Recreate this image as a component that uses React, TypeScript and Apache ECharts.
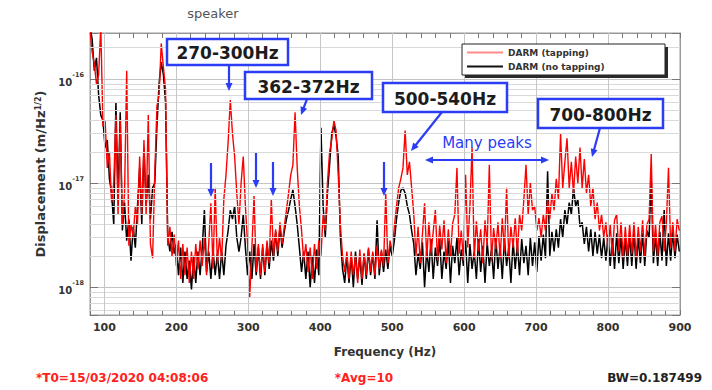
import React, { useEffect, useRef } from 'react';
import * as echarts from 'echarts';

// Frequency bins (Hz)
const freqHz = [
  80, 83, 86, 89, 92, 95, 98, 101, 104, 107,
  110, 113, 116, 119, 122, 125, 128, 131, 134, 137,
  140, 143, 146, 149, 152, 155, 158, 161, 164, 167,
  170, 173, 176, 179, 182, 185, 188, 191, 194, 197,
  200, 203, 206, 209, 212, 215, 218, 221, 224, 227,
  230, 233, 236, 239, 242, 245, 248, 251, 254, 257,
  260, 263, 266, 269, 272, 275, 278, 281, 284, 287,
  290, 293, 296, 299, 302, 305, 308, 311, 314, 317,
  320, 323, 326, 329, 332, 335, 338, 341, 344, 347,
  350, 353, 356, 359, 362, 365, 368, 371, 374, 377,
  380, 383, 386, 389, 392, 395, 398, 401, 404, 407,
  410, 413, 416, 419, 422, 425, 428, 431, 434, 437,
  440, 443, 446, 449, 452, 455, 458, 461, 464, 467,
  470, 473, 476, 479, 482, 485, 488, 491, 494, 497,
  500, 503, 506, 509, 512, 515, 518, 521, 524, 527,
  530, 533, 536, 539, 542, 545, 548, 551, 554, 557,
  560, 563, 566, 569, 572, 575, 578, 581, 584, 587,
  590, 593, 596, 599, 602, 605, 608, 611, 614, 617,
  620, 623, 626, 629, 632, 635, 638, 641, 644, 647,
  650, 653, 656, 659, 662, 665, 668, 671, 674, 677,
  680, 683, 686, 689, 692, 695, 698, 701, 704, 707,
  710, 713, 716, 719, 722, 725, 728, 731, 734, 737,
  740, 743, 746, 749, 752, 755, 758, 761, 764, 767,
  770, 773, 776, 779, 782, 785, 788, 791, 794, 797,
  800, 803, 806, 809, 812, 815, 818, 821, 824, 827,
  830, 833, 836, 839, 842, 845, 848, 851, 854, 857,
  860, 863, 866, 869, 872, 875, 878, 881, 884, 887,
  890, 893, 896, 899,
];

// DARM (tapping), displacement in units of 1e-18 m/Hz^1/2
const tappingDisp = [
  300, 180, 140, 90, 110, 320, 35, 40, 14, 20,
  6.5, 10, 45, 5, 40, 4, 8, 120, 2.5, 4,
  3, 6, 4, 18, 5, 26, 5, 45, 2.6, 1.9,
  12, 55, 70, 220, 130, 80, 2.5, 3.8, 2.0, 3.2,
  1.6, 2.8, 1.2, 2.6, 1.3, 2.4, 1.1, 2.2, 1.2, 2.6,
  1.5, 2.8, 1.6, 3.0, 1.3, 2.6, 6.4, 1.5, 9, 1.7,
  3.0, 1.8, 7, 12, 25, 63, 30, 18, 8, 4,
  10, 18, 6, 2.6, 0.8, 2.4, 7.5, 1.4, 2.6, 1.3,
  2.6, 1.4, 2.8, 1.7, 7, 2.0, 3.6, 2.2, 4.2, 2.6,
  3.8, 5.5, 8, 12, 15, 48, 14, 6, 3.5, 1.8,
  2.6, 1.4, 2.4, 1.2, 2.6, 1.5, 2.8, 2.0, 5, 3.5,
  10, 20, 26, 40, 32, 12, 4, 2, 1.4, 2.2,
  1.2, 2.2, 1.3, 2.0, 1.1, 2.3, 1.2, 2.1, 1.3, 2.4,
  1.4, 2.2, 1.3, 2.5, 1.5, 2.3, 1.6, 8, 1.7, 2.8,
  2.2, 3.8, 6, 9, 11, 14, 32, 12, 16, 9,
  5, 2.0, 3.8, 1.7, 3.2, 6.4, 1.9, 4.2, 2.1, 3.4,
  5.5, 1.8, 3.9, 2.3, 4.4, 1.7, 3.6, 2.0, 4.1, 5,
  14, 2.1, 3.5, 1.8, 12, 2.4, 6, 22, 1.9, 4.3,
  2.2, 3.6, 1.7, 4.4, 2.5, 15, 1.8, 3.7, 2.3, 4.2,
  1.9, 4.6, 2.2, 9, 1.9, 3.8, 2.4, 4.6, 2.1, 5.0,
  3.5, 7, 15, 5, 10, 5.5, 6, 3.5, 4.6, 3.0,
  5, 3.5, 7, 4.5, 8, 5.5, 11, 7, 30, 9,
  16, 27, 9, 16, 8, 18, 10, 22, 9, 17,
  8, 12, 6, 9, 4.5, 6.5, 3.5, 5, 3.0, 4.2,
  2.2, 4.0, 2.0, 4.4, 5, 2.2, 4.2, 1.9, 3.8, 2.0,
  4.0, 2.1, 4.2, 1.9, 3.8, 2.2, 4.4, 2.0, 4.0, 4.5,
  19, 2.2, 4.0, 2.0, 4.2, 4.8, 2.2, 4.0, 14, 2.4,
  4.2, 2.2, 4.5, 3.5,
];

// DARM (no tapping), displacement in units of 1e-18 m/Hz^1/2
const noTappingDisp = [
  320, 240, 120, 160, 70, 45, 40, 22, 26, 11,
  8, 4, 60, 7, 48, 3.5, 6.5, 2.8, 4.5, 1.8,
  3.8, 2.4, 6, 14, 4, 22, 6, 12, 4.5, 9,
  10, 35, 90, 145, 110, 60, 3.2, 2.2, 3.4, 2.1,
  2.6, 1.3, 2.4, 1.1, 2.2, 1.2, 1.8, 0.95, 2.0, 1.1,
  2.2, 1.3, 2.4, 5.5, 1.4, 2.2, 1.2, 2.3, 1.3, 2.1,
  1.2, 2.2, 1.3, 2.5, 3.5, 5.5, 4.5, 6, 3.0, 2.2,
  3, 5, 2.4, 1.3, 2.2, 1.2, 2.6, 1.3, 2.4, 1.2,
  2.4, 1.3, 2.6, 1.5, 2.8, 1.8, 3.4, 2.0, 3.8, 2.4,
  3.4, 4.5, 5.5, 7, 8.6, 6, 4, 2.4, 1.4, 2.2,
  1.2, 2.2, 1.0, 2.0, 1.1, 2.3, 1.3, 34, 6, 3,
  8, 15, 30, 36, 28, 18, 3, 1.5, 1.1, 2.0,
  1.1, 2.0, 1.0, 2.2, 1.2, 2.0, 1.05, 2.1, 1.2, 2.3,
  1.3, 2.1, 1.2, 4.4, 1.3, 2.2, 1.4, 2.3, 1.5, 2.5,
  2.0, 2.8, 4.5, 6.5, 8.5, 9, 8, 6, 5, 3.5,
  2.6, 1.3, 2.1, 1.5, 2.7, 1.0, 2.3, 1.4, 2.9, 1.2,
  2.4, 1.6, 2.9, 1.2, 2.2, 1.5, 2.8, 1.1, 2.5, 1.7,
  3.0, 1.3, 2.3, 1.6, 2.8, 1.1, 2.6, 1.5, 2.2, 1.2,
  2.9, 1.4, 2.5, 1.1, 2.7, 1.6, 2.3, 1.2, 3.0, 1.5,
  2.5, 1.2, 2.9, 1.6, 2.4, 1.1, 2.8, 1.5, 2.6, 1.3,
  2.9, 1.7, 2.5, 1.3, 3.0, 1.6, 2.7, 1.4, 3.1, 1.8,
  3.2, 1.9, 13, 2.0, 3.4, 2.2, 3.6, 2.4, 4.5, 3.0,
  5.5, 4, 6.5, 5, 9, 6, 7, 3.8, 4.2, 2.6,
  3.8, 2.2, 3.6, 2.0, 3.4, 2.1, 3.2, 1.9, 3.0, 1.8,
  3.2, 1.6, 3.0, 1.5, 3.3, 1.7, 3.1, 1.5, 3.0, 1.6,
  3.2, 1.6, 3.4, 1.5, 3.0, 1.7, 3.3, 1.6, 3.5, 3.0,
  11, 1.7, 3.2, 1.6, 3.4, 1.8, 5.5, 1.6, 3.3, 1.8,
  3.4, 1.9, 3.2, 2.2,
];

const seriesNames = ['DARM (tapping)', 'DARM (no tapping)'];
const xMajorGrid = [100, 200, 300, 400, 500, 600, 700, 800];
const yMinorGrid = [0.6, 0.7, 0.8, 0.9, 2, 3, 4, 5, 6, 7, 8, 9, 20, 30, 40, 50, 60, 70, 80, 90, 200];
const Y_UNIT_EXP = -18;

const BLUE = '#2b3cf5';
const FONT = '"DejaVu Sans", "Liberation Sans", sans-serif';

function arrowHead(tx: number, ty: number, fx: number, fy: number) {
  const dx = tx - fx;
  const dy = ty - fy;
  const len = Math.sqrt(dx * dx + dy * dy) || 1;
  const ux = dx / len;
  const uy = dy / len;
  const bx = tx - ux * 8;
  const by = ty - uy * 8;
  const nx = -uy * 3.5;
  const ny = ux * 3.5;
  return {
    type: 'polygon',
    z: 10,
    shape: { points: [[tx, ty], [bx + nx, by + ny], [bx - nx, by - ny]] },
    style: { fill: BLUE },
  };
}

function arrow(x1: number, y1: number, x2: number, y2: number, both = false) {
  const dx = x2 - x1;
  const dy = y2 - y1;
  const len = Math.sqrt(dx * dx + dy * dy) || 1;
  const ux = dx / len;
  const uy = dy / len;
  const sx = both ? x1 + ux * 6 : x1;
  const sy = both ? y1 + uy * 6 : y1;
  const els: any[] = [
    {
      type: 'line',
      z: 10,
      shape: { x1: sx, y1: sy, x2: x2 - ux * 6, y2: y2 - uy * 6 },
      style: { stroke: BLUE, lineWidth: 2.2 },
    },
    arrowHead(x2, y2, x1, y1),
  ];
  if (both) els.push(arrowHead(x1, y1, x2, y2));
  return els;
}

function labelBox(x: number, y: number, w: number, h: number, text: string) {
  return [
    {
      type: 'rect',
      z: 10,
      shape: { x, y, width: w, height: h },
      style: { fill: '#ffffff', stroke: BLUE, lineWidth: 2.5 },
    },
    {
      type: 'text',
      z: 11,
      x: x + w / 2,
      y: y + h / 2 + 1,
      style: {
        text,
        align: 'center',
        verticalAlign: 'middle',
        fontFamily: FONT,
        fontWeight: 'bold',
        fontSize: 17,
        fill: '#1c1c1c',
      },
    },
  ];
}

function plainText(x: number, y: number, text: string, color: string, size: number, weight: string, align = 'left') {
  return {
    type: 'text',
    z: 11,
    x,
    y,
    style: {
      text,
      align,
      verticalAlign: 'middle',
      fontFamily: FONT,
      fontWeight: weight,
      fontSize: size,
      fill: color,
    },
  };
}

export default function App() {
  const ref = useRef<HTMLDivElement>(null);

  useEffect(() => {
    if (!ref.current) return;
    const chart = echarts.init(ref.current, undefined, { renderer: 'svg' });

    const graphics: any[] = [
      plainText(213, 13, 'speaker', '#555', 13, 'normal', 'center'),
      // legend frame with drop shadow
      { type: 'rect', z: 10, shape: { x: 465, y: 47, width: 203, height: 31 }, style: { fill: '#2a2a2a' } },
      { type: 'rect', z: 10, shape: { x: 462, y: 44, width: 203, height: 31 }, style: { fill: '#ffffff', stroke: '#222', lineWidth: 1 } },
      ...labelBox(167, 39, 121, 26, '270-300Hz'),
      ...labelBox(245, 72, 127, 27, '362-372Hz'),
      ...labelBox(383, 83, 124, 29, '500-540Hz'),
      ...labelBox(538, 99, 125, 29, '700-800Hz'),
      ...arrow(229, 65, 229, 91),
      ...arrow(307, 99, 301, 115),
      ...arrow(442, 112, 411, 151),
      ...arrow(600, 128, 592, 157),
      ...arrow(211, 163, 211, 197),
      ...arrow(256, 153, 256, 188),
      ...arrow(273, 162, 273, 196),
      ...arrow(384, 162, 384, 196),
      ...arrow(425, 160, 549, 160, true),
      plainText(487, 143, 'Many peaks', BLUE, 15, 'normal', 'center'),
      plainText(36, 378, '*T0=15/03/2020 04:08:06', '#ff2020', 12, 'bold'),
      plainText(364, 378, '*Avg=10', '#ff2020', 12, 'bold', 'center'),
      plainText(702, 378, 'BW=0.187499', '#222', 12, 'bold', 'right'),
    ];

    const gridLines = [
      ...yMinorGrid.map((v) => ({ yAxis: v, lineStyle: { color: '#d9d9d9', width: 1, type: 'solid' } })),
      ...xMajorGrid.map((f) => ({ xAxis: f, lineStyle: { color: '#c6c6c6', width: 1, type: 'solid' } })),
    ];

    const axisCommon = {
      axisLine: { show: true, onZero: false, lineStyle: { color: '#9a9a9a', width: 1 } },
    };

    const option: any = {
      animation: false,
      backgroundColor: '#ffffff',
      grid: { left: 90, top: 33, right: 32, bottom: 75, show: true, borderColor: '#9a9a9a', borderWidth: 1 },
      legend: {
        data: [
          { name: seriesNames[0], itemStyle: { color: '#ff8c8c' } },
          { name: seriesNames[1], itemStyle: { color: '#111' } },
        ],
        orient: 'vertical',
        left: 465,
        top: 45,
        padding: 2,
        itemGap: 3,
        itemWidth: 36,
        itemHeight: 2,
        icon: 'rect',
        z: 20,
        textStyle: { fontSize: 9, fontWeight: 'bold', fontFamily: FONT, color: '#333', lineHeight: 11 },
      },
      xAxis: [
        {
          type: 'value',
          min: 80,
          max: 900,
          interval: 20,
          position: 'bottom',
          ...axisCommon,
          axisTick: { show: true, inside: true, length: 5, lineStyle: { color: '#777' } },
          axisLabel: {
            formatter: (v: number) => (v % 100 === 0 ? String(v) : ''),
            color: '#333',
            fontSize: 11,
            fontWeight: 'bold',
            fontFamily: FONT,
            margin: 7,
          },
          splitLine: { show: false },
          name: 'Frequency (Hz)',
          nameLocation: 'middle',
          nameGap: 31,
          nameTextStyle: { fontSize: 12, fontWeight: 'bold', fontFamily: FONT, color: '#333' },
        },
        {
          type: 'value',
          min: 80,
          max: 900,
          interval: 20,
          position: 'top',
          ...axisCommon,
          axisTick: { show: true, inside: true, length: 5, lineStyle: { color: '#777' } },
          axisLabel: { show: false },
          splitLine: { show: false },
        },
      ],
      yAxis: [
        {
          type: 'log',
          logBase: 10,
          min: 0.54,
          max: 277,
          position: 'left',
          ...axisCommon,
          axisTick: { show: true, inside: true, length: 8, lineStyle: { color: '#777' } },
          axisLabel: {
            margin: 6,
            formatter: (v: number) => {
              const e = Math.log10(v);
              const r = Math.round(e);
              if (Math.abs(e - r) > 1e-6) return '';
              return `{b|10}{s|${r + Y_UNIT_EXP}}`;
            },
            rich: {
              b: { fontSize: 10, fontWeight: 'bold', fontFamily: FONT, color: '#333', verticalAlign: 'bottom', lineHeight: 16 },
              s: { fontSize: 6.5, fontWeight: 'bold', fontFamily: FONT, color: '#333', verticalAlign: 'top', lineHeight: 8 },
            },
          },
          splitLine: { show: true, lineStyle: { color: '#c4c4c4', width: 1 } },
          name: 'Displacement (m/Hz{s|1/2})',
          nameLocation: 'middle',
          nameGap: 36,
          nameRotate: 90,
          nameTextStyle: {
            fontSize: 13,
            fontWeight: 'bold',
            fontFamily: FONT,
            color: '#333',
            rich: {
              s: { fontSize: 8, fontWeight: 'bold', fontFamily: FONT, color: '#333', verticalAlign: 'top', lineHeight: 8 },
            },
          },
        },
        {
          type: 'log',
          logBase: 10,
          min: 0.54,
          max: 277,
          position: 'right',
          ...axisCommon,
          axisTick: { show: true, inside: true, length: 8, lineStyle: { color: '#777' } },
          axisLabel: { show: false },
          splitLine: { show: false },
        },
      ],
      series: [
        {
          type: 'line',
          name: 'grid',
          data: [],
          silent: true,
          z: 1,
          markLine: {
            silent: true,
            symbol: ['none', 'none'],
            label: { show: false },
            emphasis: { disabled: true },
            data: gridLines,
          },
        },
        {
          type: 'line',
          name: seriesNames[1],
          data: freqHz.map((f, i) => [f, noTappingDisp[i]]),
          showSymbol: false,
          symbol: 'none',
          lineStyle: { color: '#000000', width: 1.5 },
          itemStyle: { color: '#000000' },
          emphasis: { disabled: true },
          z: 2,
        },
        {
          type: 'line',
          name: seriesNames[0],
          data: freqHz.map((f, i) => [f, tappingDisp[i]]),
          showSymbol: false,
          symbol: 'none',
          lineStyle: { color: '#ff0000', width: 1.4 },
          itemStyle: { color: '#ff0000' },
          emphasis: { disabled: true },
          z: 3,
        },
      ],
      graphic: { elements: graphics },
    };

    chart.setOption(option);
    return () => chart.dispose();
  }, []);

  return <div ref={ref} style={{ position: 'fixed', left: 0, top: 0, width: 712, height: 390 }} />;
}
